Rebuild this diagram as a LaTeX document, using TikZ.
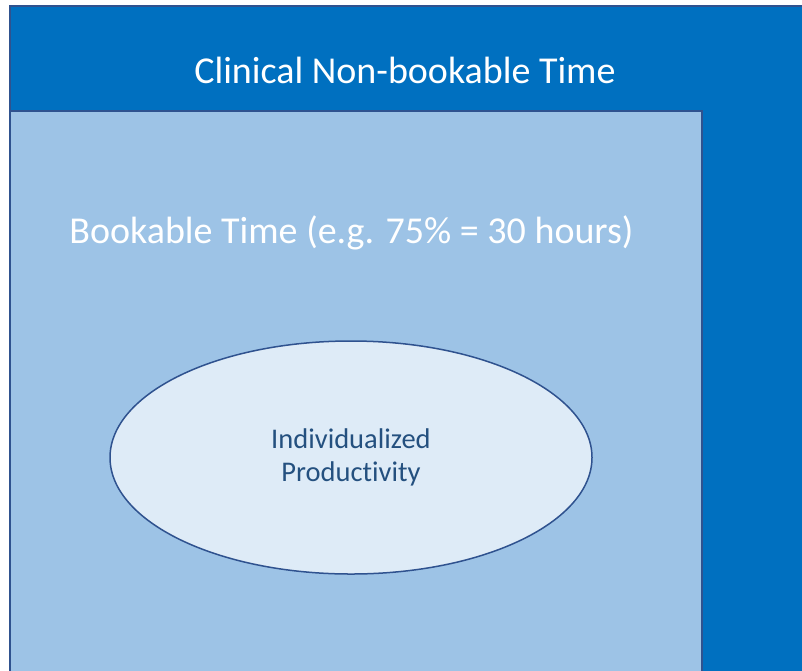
\documentclass[tikz,border=0pt]{standalone}
\usepackage{fontspec}
\setmainfont{Carlito}[Ligatures=NoCommon]
\usepackage{tikz}
\usetikzlibrary{shapes,positioning}
\definecolor{clinblue}{HTML}{0070C0}
\definecolor{bookblue}{HTML}{9DC3E6}
\definecolor{prodblue}{HTML}{DEEBF7}
\definecolor{edgeblue}{HTML}{2F528F}
\definecolor{textblue}{HTML}{24507F}

\begin{document}
\begin{tikzpicture}[x=1pt, y=-1pt, line width=1.5pt,
  bigtext/.style={text=white, font=\fontsize{38}{44}\selectfont, inner sep=0pt},
  prodtext/.style={text=textblue, font=\fontsize{28.5}{33}\selectfont, align=center, inner sep=0pt}]

\useasboundingbox (0,0) rectangle (802,670);
\clip (0,0) rectangle (802,670);

% outer and inner blocks
\draw[fill=clinblue, draw=edgeblue] (10,6) rectangle (830,700);
\draw[fill=bookblue, draw=edgeblue] (10,111) rectangle (702,700);

\node[bigtext] (clinical) at (405,70) {Clinical Non-bookable Time};
\node[bigtext] (bookable) at (351.5,233) {Bookable Time (e.g. 75\% = 30 hours)};

\node (prod) [ellipse, draw=edgeblue, fill=prodblue, minimum width=482pt, minimum height=233pt, inner sep=0pt] at (351,457.5) {};
\node[prodtext] (prodlabel) at (prod.center) {Individualized\\Productivity};

\end{tikzpicture}
\end{document}
